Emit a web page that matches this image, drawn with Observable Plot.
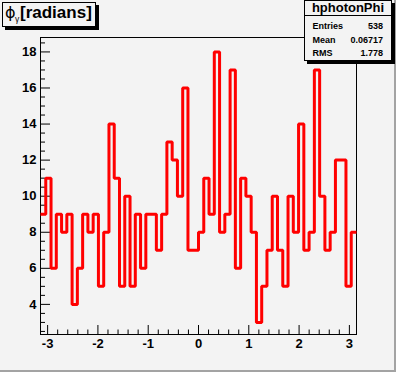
<!DOCTYPE html>
<html><head><meta charset="utf-8">
<script src="https://cdn.jsdelivr.net/npm/d3@7"></script>
<script src="https://cdn.jsdelivr.net/npm/@observablehq/plot@0.6"></script>
<style>
html,body{margin:0;padding:0;background:#f3f3f3;}
#wrap{position:relative;width:396px;height:372px;overflow:hidden;background:#f3f3f3;font-family:"Liberation Sans",Arial,sans-serif;}
#wrap svg{position:absolute;left:0;top:0;}
</style></head><body><div id="wrap"></div>
<script>
// Histogram hphotonPhi: 60 bins over [-pi, pi]
const binCounts = [9,11,6,9,8,9,4,6,9,8,9,5,8,14,11,5,10,5,9,
  6,9,9,7,9,13,12,10,16,7,7,8,11,9,18,8,9,17,6,11,
  10,8,3,5,7,10,7,5,10,8,14,7,8,17,10,7,8,12,12,5,8];
const xRange = [-Math.PI, Math.PI];
const yRange = [2.33, 18.8];
const xMajorTicks = [-3,-2,-1,0,1,2,3];
const yMajorTicks = [4,6,8,10,12,14,16,18];
const titleMain = "[radians]";
const titleSymbol = "ϕ";
const titleSub = "γ";
const statsName = "hphotonPhi";
const statsLabels = ["Entries","Mean","RMS"];
const statsValues = ["538","0.06717","1.778"];

const nBins = binCounts.length;
const bw = (xRange[1]-xRange[0]) / nBins;
const stepData = binCounts.map((v,i) => ({edge: xRange[0] + i*bw, count: v}));
stepData.push({edge: xRange[1], count: binCounts[nBins-1]});

const xMinor = d3.range(-30, 31, 2).map(v => v/10).filter(v => !Number.isInteger(v) && v > xRange[0] && v < xRange[1]);
const yMinor = d3.range(5, 38, 1).map(v => v/2).filter(v => v % 2 !== 0 && v > yRange[0] && v < yRange[1]);

const fmt = d => String(d);
const chart = Plot.plot({
  width: 396, height: 372,
  marginLeft: 40, marginRight: 40, marginTop: 37, marginBottom: 38,
  style: {background: "transparent", fontFamily: "Liberation Sans, Arial, sans-serif", color: "black"},
  x: {domain: xRange, label: null},
  y: {domain: yRange, label: null},
  marks: [
    Plot.frame({stroke: "black"}),
    Plot.axisY(yMajorTicks, {anchor: "left", tickSize: 10, dx: 10, fill: "none", label: null}),
    Plot.axisY(yMinor, {anchor: "left", tickSize: 5, dx: 5, fill: "none", label: null}),
    Plot.axisY(yMajorTicks, {anchor: "left", tickSize: 0, tickPadding: 4, fontSize: 13, fontWeight: "bold", tickFormat: fmt, label: null}),
    Plot.axisX(xMajorTicks, {anchor: "bottom", tickSize: 9, dy: -9, fill: "none", label: null}),
    Plot.axisX(xMinor, {anchor: "bottom", tickSize: 4.5, dy: -4.5, fill: "none", label: null}),
    Plot.axisX(xMajorTicks, {anchor: "bottom", tickSize: 0, tickPadding: 4, fontSize: 13, fontWeight: "bold", tickFormat: fmt, label: null}),
    Plot.line(stepData, {x: "edge", y: "count", curve: "step-after", stroke: "#ff0000", strokeWidth: 3, strokeLinejoin: "miter", strokeLinecap: "butt"})
  ]
});
const wrap = document.getElementById("wrap");
wrap.appendChild(chart);

// Overlay: title box, stats box, canvas bevel
const ov = d3.select(wrap).append("svg").attr("width", 396).attr("height", 372)
  .style("font-family", "Liberation Sans, Arial, sans-serif");
// canvas bevel
ov.append("rect").attr("x", 394).attr("y", 0).attr("width", 2).attr("height", 372).attr("fill", "#a3a3a3");
ov.append("rect").attr("x", 0).attr("y", 370).attr("width", 396).attr("height", 2).attr("fill", "#a3a3a3");
// title box
ov.append("rect").attr("x", 5).attr("y", 5).attr("width", 94).attr("height", 25).attr("fill", "#000");
ov.append("rect").attr("x", 2.5).attr("y", 2.5).attr("width", 93).attr("height", 24).attr("fill", "#f3f3f3").attr("stroke", "#000");
ov.append("text").attr("x", 5).attr("y", 17.5).attr("font-size", 16).attr("font-family", "DejaVu Sans, sans-serif").text(titleSymbol);
ov.append("text").attr("x", 15).attr("y", 21.5).attr("font-size", 8.5).text(titleSub);
ov.append("text").attr("x", 20).attr("y", 17.5).attr("font-size", 17).attr("font-weight", "bold").text(titleMain);
// stats box
ov.append("rect").attr("x", 307).attr("y", 3).attr("width", 88).attr("height", 61).attr("fill", "#000");
ov.append("rect").attr("x", 304.5).attr("y", 0.5).attr("width", 87).attr("height", 60).attr("fill", "#f3f3f3").attr("stroke", "#000");
ov.append("line").attr("x1", 304.5).attr("x2", 391.5).attr("y1", 15.5).attr("y2", 15.5).attr("stroke", "#000");
ov.append("text").attr("x", 348).attr("y", 12).attr("text-anchor", "middle").attr("font-size", 13).attr("font-weight", "bold").text(statsName);
const rowY = [28.5, 42.5, 56];
statsLabels.forEach((lab, i) => {
  ov.append("text").attr("x", 312.5).attr("y", rowY[i]).attr("font-size", 9).attr("font-weight", "bold").text(lab);
  ov.append("text").attr("x", 383).attr("y", rowY[i]).attr("text-anchor", "end").attr("font-size", 9).attr("font-weight", "bold").text(statsValues[i]);
});
</script></body></html>
